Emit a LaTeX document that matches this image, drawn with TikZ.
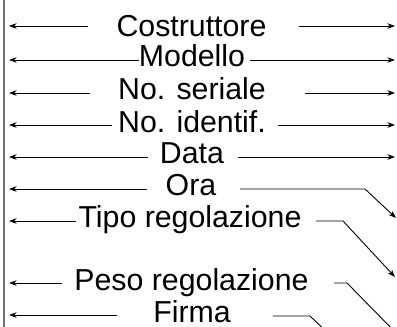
\documentclass[tikz,border=0pt]{standalone}
\usepackage{fontspec}
\setmainfont{Liberation Sans}
\usetikzlibrary{arrows.meta}
\tikzset{
  lbl/.style={anchor=base, inner sep=0pt, font=\fontsize{30.3}{36}\selectfont},
  arr/.style={draw=black, line width=0.9pt, -{Stealth[length=7.5pt,width=5.5pt,inset=2.2pt]}},
  ln/.style={draw=black, line width=0.9pt},
  edge/.style={draw=black!55, line width=1.4pt}
}
\begin{document}
\begin{tikzpicture}[x=1pt,y=-1pt]
\clip (0,0) rectangle (397,327);
\useasboundingbox (0,0) rectangle (397,327);
% left border
\coordinate (bt) at (4,0);
\coordinate (bb) at (4,327);
\draw[edge] (bt) -- (bb);
% labels
\node[lbl] (cos) at (191.5,36) {Costruttore};
\node[lbl] (mod) at (192,66) {Modello};
\node[lbl] (ser) at (192,99) {No. seriale};
\node[lbl] (ide) at (192,132) {No. identif.};
\node[lbl] (dat) at (192,163) {Data};
\node[lbl] (ora) at (191,195) {Ora};
\node[lbl] (tip) at (190,227) {Tipo regolazione};
\node[lbl] (pes) at (191.5,290) {Peso regolazione};
\node[lbl] (fir) at (192,322) {Firma};
% left arrow coordinates
\coordinate (cosL) at (88,26);   \coordinate (cosLt) at (9,26);
\coordinate (modL) at (139,60);  \coordinate (modLt) at (9,60);
\coordinate (serL) at (90,93);   \coordinate (serLt) at (9,93);
\coordinate (ideL) at (112,125); \coordinate (ideLt) at (9,125);
\coordinate (datL) at (148,157); \coordinate (datLt) at (9,157);
\coordinate (oraL) at (147,189); \coordinate (oraLt) at (9,189);
\coordinate (tipL) at (76,221);  \coordinate (tipLt) at (9,221);
\coordinate (pesL) at (62,283);  \coordinate (pesLt) at (9,283);
\coordinate (firL) at (117,315); \coordinate (firLt) at (9,315);
\draw[arr] (cosL) -- (cosLt);
\draw[arr] (modL) -- (modLt);
\draw[arr] (serL) -- (serLt);
\draw[arr] (ideL) -- (ideLt);
\draw[arr] (datL) -- (datLt);
\draw[arr] (oraL) -- (oraLt);
\draw[arr] (tipL) -- (tipLt);
\draw[arr] (pesL) -- (pesLt);
\draw[arr] (firL) -- (firLt);
% right arrows
\coordinate (cosR) at (299,26);  \coordinate (cosRt) at (395,26);
\coordinate (modR) at (250,60);  \coordinate (modRt) at (395,60);
\coordinate (serR) at (305,93);  \coordinate (serRt) at (395,93);
\coordinate (ideR) at (278,125); \coordinate (ideRt) at (395,125);
\coordinate (datR) at (238,157); \coordinate (datRt) at (395,157);
\draw[arr] (cosR) -- (cosRt);
\draw[arr] (modR) -- (modRt);
\draw[arr] (serR) -- (serRt);
\draw[arr] (ideR) -- (ideRt);
\draw[arr] (datR) -- (datRt);
% bent right arrows
\coordinate (oraR) at (240,189); \coordinate (oraK) at (365,189); \coordinate (oraRt) at (396,218);
\coordinate (tipR) at (316,221); \coordinate (tipK) at (343,221); \coordinate (tipRt) at (395,277);
\coordinate (pesR) at (334,283); \coordinate (pesK) at (347,283); \coordinate (pesRt) at (400,337);
\coordinate (firR) at (273,316); \coordinate (firK) at (310,316); \coordinate (firRt) at (332,337);
\draw[arr] (oraR) -- (oraK) -- (oraRt);
\draw[arr] (tipR) -- (tipK) -- (tipRt);
\draw[ln] (pesR) -- (pesK) -- (pesRt);
\draw[ln] (firR) -- (firK) -- (firRt);
\end{tikzpicture}
\end{document}
